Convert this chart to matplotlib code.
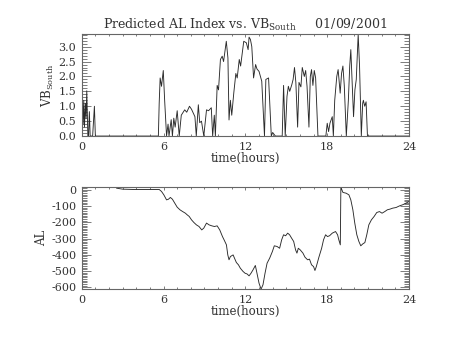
import numpy as np
import matplotlib
matplotlib.use("Agg")
import matplotlib.pyplot as plt
from matplotlib.ticker import MultipleLocator, FormatStrFormatter

plt.rcParams["font.family"] = ["DejaVu Serif"]
plt.rcParams["mathtext.fontset"] = "dejavuserif"
plt.rcParams["axes.unicode_minus"] = False
plt.rcParams["text.color"] = "#333333"
plt.rcParams["axes.labelcolor"] = "#333333"
plt.rcParams["xtick.labelcolor"] = "#333333"
plt.rcParams["ytick.labelcolor"] = "#333333"

# VB South (mV/m) vs time in hours
vb_t = [0.0, 0.05, 0.1, 0.15, 0.2, 0.27, 0.32, 0.37, 0.45, 0.5, 0.56, 0.62, 0.68, 0.8, 0.93, 1.0,
        5.62, 5.68, 5.75, 5.85, 5.98, 6.08, 6.22, 6.33, 6.4, 6.56, 6.65, 6.75, 6.85, 7.0, 7.15,
        7.3, 7.55, 7.7, 7.9, 8.05, 8.3, 8.4, 8.55, 8.65, 8.78, 8.95, 9.15, 9.3, 9.5, 9.6, 9.72,
        9.8, 9.93, 10.03, 10.17, 10.3, 10.4, 10.6, 10.72, 10.8, 10.9, 11.0, 11.15, 11.3, 11.4,
        11.55, 11.65, 11.8, 11.88, 12.07, 12.2, 12.27, 12.37, 12.47, 12.6, 12.75, 12.85, 13.0,
        13.2, 13.4, 13.5, 13.7, 13.9, 14.0, 14.2, 14.7, 14.8, 14.92, 15.05, 15.15, 15.25, 15.4,
        15.5, 15.6, 15.7, 15.83, 15.93, 16.07, 16.17, 16.32, 16.42, 16.52, 16.66, 16.76, 16.85,
        16.95, 17.05, 17.15, 17.32, 17.9, 18.0, 18.1, 18.2, 18.37, 18.45, 18.55, 18.7, 18.8,
        18.95, 19.05, 19.15, 19.25, 19.4, 19.55, 19.65, 19.73, 19.83, 19.93, 20.03, 20.13, 20.27,
        20.37, 20.5, 20.6, 20.65, 20.75, 20.85, 20.95, 24.0]
vb_v = [0.9, 1.3, 0.4, 1.2, 0.3, 1.1, 0.6, 1.52, 0.0, 0.0, 0.82, 0.0, 0.0, 0.0, 1.0, 0.0,
        0.0, 1.1, 1.95, 1.67, 2.2, 1.2, 0.0, 0.4, 0.0, 0.55, 0.0, 0.6, 0.3, 0.85, 0.0,
        0.7, 0.88, 0.8, 1.0, 0.9, 0.65, 0.0, 1.05, 0.45, 0.5, 0.0, 0.88, 0.85, 0.95, 0.0, 0.7,
        0.0, 1.7, 1.55, 2.57, 2.68, 2.5, 3.18, 2.62, 0.54, 1.2, 0.7, 1.45, 2.1, 1.95,
        2.57, 2.35, 2.9, 3.18, 3.13, 2.9, 3.32, 3.24, 3.0, 1.95, 2.4, 2.25, 2.17,
        1.84, 0.0, 1.9, 1.95, 0.0, 0.12, 0.0, 0.0, 1.7, 0.0, 1.33, 1.67, 1.5, 1.72,
        1.9, 2.3, 1.8, 0.3, 1.8, 1.65, 2.3, 2.0, 2.2, 1.67, 0.3, 2.0,
        2.23, 1.7, 2.2, 1.95, 0.0, 0.0, 0.43, 0.15, 0.43, 0.65, 0.0, 1.2, 2.0, 2.23,
        1.44, 2.1, 2.35, 1.7, 0.0, 1.2, 2.35, 2.9, 1.8, 0.65, 1.55, 1.9, 3.41,
        2.35, 0.0, 1.1, 1.2, 1.0, 1.15, 0.0, 0.0]

# predicted AL (nT)
al_t = [2.56, 3.0, 3.8, 5.68, 5.85, 6.02, 6.22, 6.36, 6.5, 6.65, 6.82, 7.0, 7.2, 7.4, 7.6,
        7.73, 7.88, 8.05, 8.22, 8.41, 8.6, 8.8, 8.95, 9.15, 9.34, 9.54, 9.73, 9.93, 10.12,
        10.32, 10.46, 10.61, 10.71, 10.8, 10.9, 11.1, 11.2, 11.34, 11.49, 11.63, 11.83, 11.98,
        12.12, 12.27, 12.41, 12.56, 12.73, 12.85, 13.0, 13.15, 13.29, 13.44, 13.59, 13.78,
        13.98, 14.12, 14.32, 14.51, 14.66, 14.8, 14.95, 15.1, 15.24, 15.39, 15.54, 15.68,
        15.78, 15.88, 16.02, 16.22, 16.37, 16.56, 16.7, 16.85, 17.0, 17.1, 17.2, 17.39, 17.59,
        17.73, 17.88, 18.02, 18.17, 18.37, 18.61, 18.76, 18.85, 18.96, 19.0, 19.15, 19.39,
        19.59, 19.73, 19.88, 20.02, 20.17, 20.32, 20.46, 20.61, 20.76, 20.9, 21.05, 21.24,
        21.44, 21.63, 21.83, 22.02, 22.22, 22.41, 22.6, 22.8, 23.05, 23.3, 23.54, 23.78, 24.0]
al_v = [10, 4, 2, 2, -10, -31, -62, -58, -47, -58, -82, -107, -123, -134, -144,
        -154, -164, -185, -201, -216, -226, -247, -236, -205, -216, -222, -226, -222, -247,
        -288, -312, -339, -401, -431, -411, -401, -421, -448, -462, -483, -503, -514,
        -518, -530, -514, -493, -466, -514, -575, -612, -585, -514, -452, -421,
        -380, -345, -349, -360, -308, -277, -283, -267, -277, -298, -318, -370,
        -390, -360, -370, -390, -415, -431, -427, -462, -473, -497, -473, -415, -360,
        -308, -277, -288, -283, -267, -257, -277, -308, -339, 16, -16, -21,
        -31, -62, -123, -205, -277, -318, -345, -333, -325, -277, -216, -185,
        -164, -140, -134, -144, -134, -123, -119, -113, -109, -99, -92, -82, -72]

line_kw = dict(color="#2a2a2a", lw=0.65)
frame_c = "#666666"


def style_axes(ax, ylen):
    for s in ax.spines.values():
        s.set_color(frame_c)
        s.set_linewidth(0.8)
    ax.tick_params(which="both", direction="in", top=True, right=True,
                   color=frame_c, labelsize=8, pad=4)
    ax.tick_params(axis="x", which="major", length=2.2, width=0.6)
    ax.tick_params(axis="x", which="minor", length=1.2, width=0.6)
    ax.tick_params(axis="y", which="major", length=ylen, width=0.6)
    ax.tick_params(axis="y", which="minor", length=ylen / 2, width=0.6)
    ax.set_xlim(0, 24)
    ax.xaxis.set_major_locator(MultipleLocator(6))
    ax.xaxis.set_minor_locator(MultipleLocator(1))
    ax.set_xlabel("time(hours)", fontsize=8.5, labelpad=0)


fig = plt.figure(figsize=(4.54, 3.41), dpi=100)
ax1 = fig.add_axes([0.18, 0.601, 0.721, 0.298])
ax2 = fig.add_axes([0.18, 0.152, 0.721, 0.299])

vb_t = np.array(vb_t)
vb_v = np.array(vb_v)
ax1.plot(vb_t, vb_v, **line_kw)
style_axes(ax1, 6.5)
ax1.set_ylim(0, vb_v.max())
ax1.yaxis.set_major_locator(MultipleLocator(0.5))
ax1.yaxis.set_minor_locator(MultipleLocator(0.1))
ax1.yaxis.set_major_formatter(FormatStrFormatter("%.1f"))
ax1.set_ylabel(r"VB$_{\mathrm{South}}$", fontsize=8.5, labelpad=2)
ax1.set_title(r"Predicted AL Index vs. VB$_{\mathrm{South}}$     01/09/2001",
              fontsize=9, pad=4)

al_t = np.array(al_t)
al_v = np.array(al_v)
ax2.plot(al_t, al_v, **line_kw)
style_axes(ax2, 6.5)
ax2.set_ylim(al_v.min(), al_v.max())
ax2.yaxis.set_major_locator(MultipleLocator(100))
ax2.yaxis.set_minor_locator(MultipleLocator(10))
ax2.yaxis.set_major_formatter(FormatStrFormatter("%d"))
ax2.set_ylabel("AL", fontsize=8.5, labelpad=2)

fig.savefig("out.png", dpi=100)
